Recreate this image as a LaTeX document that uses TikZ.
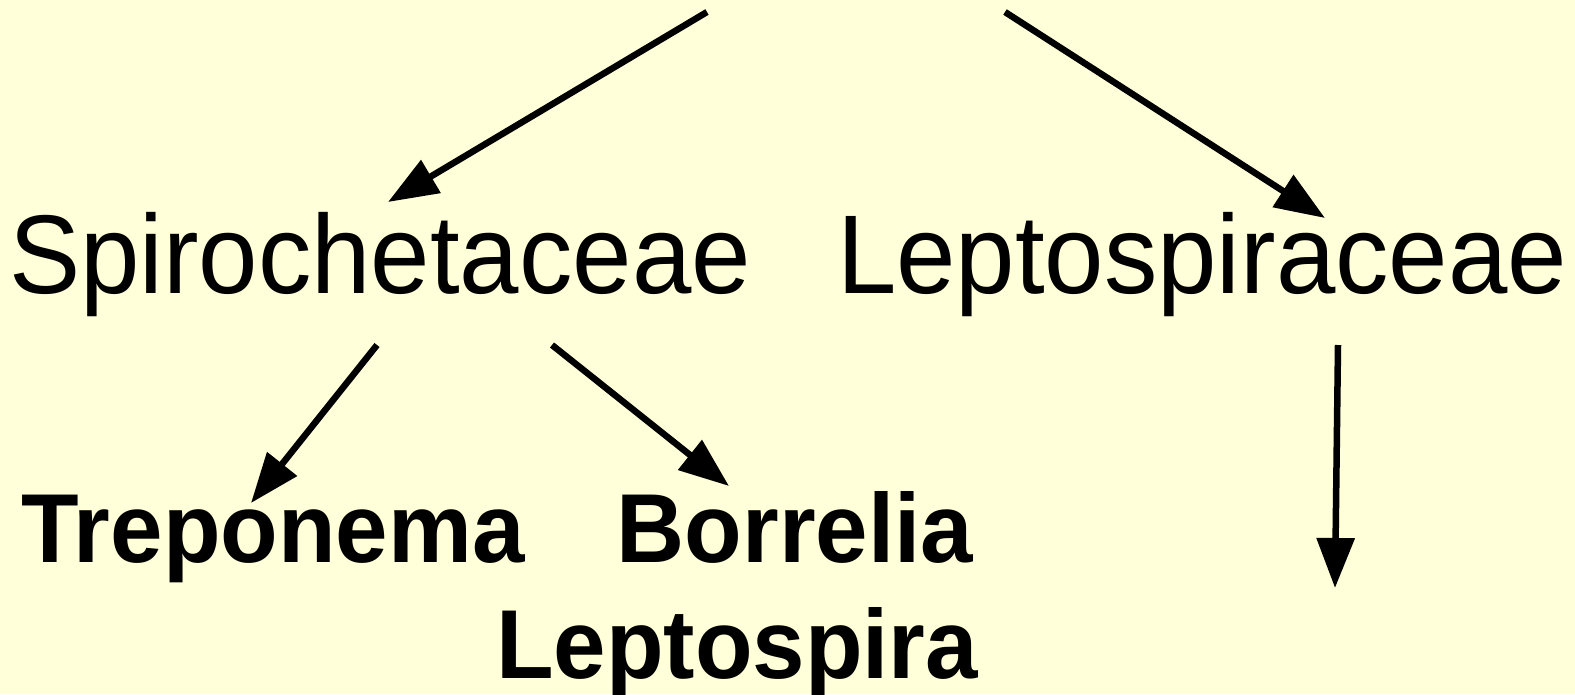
\documentclass[tikz,border=0pt]{standalone}
\usepackage{fontspec}
\setmainfont{Liberation Sans}
\usetikzlibrary{arrows.meta}
\definecolor{bgyellow}{RGB}{255,255,217}
\tikzset{
  family/.style={inner sep=0pt, anchor=base, font=\fontsize{112}{130}\selectfont},
  genus/.style={inner sep=0pt, anchor=base, font=\fontsize{98}{115}\selectfont\bfseries},
  conn/.style={line width=6.5pt, -{Triangle[length=50pt,width=37pt]}}
}
\newcommand{\squeezereg}[1]{\scalebox{0.953}[1]{#1}}
\newcommand{\squeezebold}[1]{\scalebox{0.962}[1]{#1}}
\begin{document}
\begin{tikzpicture}[x=1pt,y=-1pt]
\fill[bgyellow] (0,0) rectangle (1575,694);
\useasboundingbox (0,0) rectangle (1575,694);
\node[family] (spiro) at (380,293) {\squeezereg{Spirochetaceae}};
\node[family] (lepfam) at (1202,293) {\squeezereg{Leptospiraceae}};
\node[genus] (trep) at (273,562) {\squeezebold{Treponema}};
\node[genus] (borr) at (795,562) {\squeezebold{Borrelia}};
\node[genus] (lepto) at (737,678) {\squeezebold{Leptospira}};
\coordinate (top1) at (707,12);
\coordinate (top2) at (1005,12);
\coordinate (tip1) at (388,202);
\coordinate (tip2) at (1325,218);
\coordinate (s3) at (377,345);
\coordinate (tip3) at (251,503);
\coordinate (s4) at (552,345);
\coordinate (tip4) at (729,486);
\coordinate (s5) at (1338,345);
\coordinate (tip5) at (1335,588);
\draw[conn] (top1) -- (tip1);
\draw[conn] (top2) -- (tip2);
\draw[conn] (s3) -- (tip3);
\draw[conn] (s4) -- (tip4);
\draw[conn] (s5) -- (tip5);
\end{tikzpicture}
\end{document}
